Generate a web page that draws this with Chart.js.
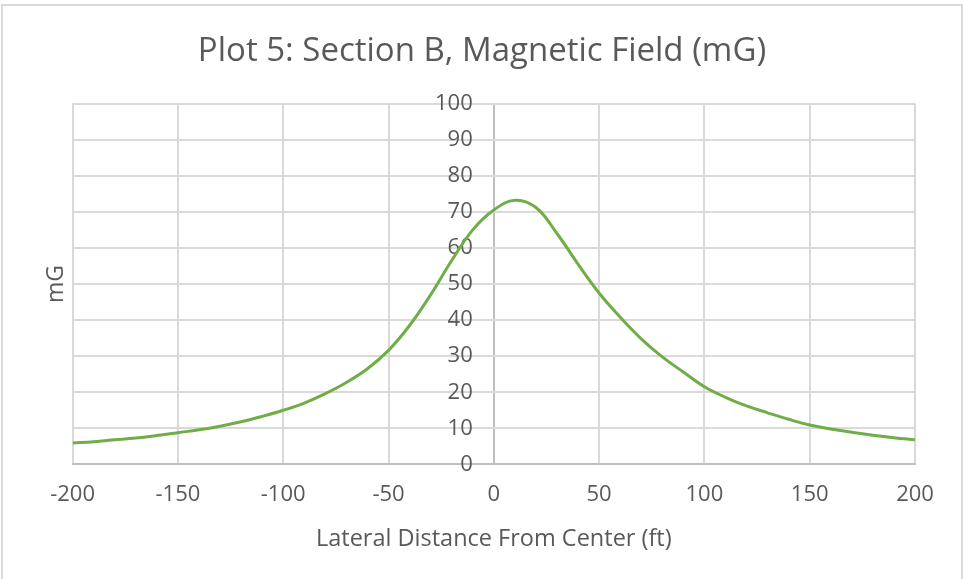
<!DOCTYPE html>
<html lang="en">
<head>
  <meta charset="UTF-8">
  <title>Plot 5: Section B, Magnetic Field (mG)</title>
  <script src="https://cdn.jsdelivr.net/npm/chart.js"></script>
  <style>
    html, body { margin: 0; padding: 0; background: #fff; }
    .wrap { position: relative; width: 964px; height: 579px; }
    .frame {
      position: absolute; left: 1px; top: 4px; width: 958px; height: 580px;
      border: 2px solid #d9d9d9; pointer-events: none;
    }
  </style>
</head>
<body>
  <div class="wrap">
    <canvas id="fieldChart" width="964" height="579"></canvas>
    <div class="frame"></div>
  </div>

  <script>
    // lateral distance (ft) and field (mG)
    const distances = [-200, -190, -180, -170, -160, -150, -140, -130, -120, -110,
      -100, -90, -80, -70, -60, -50, -40, -30, -20, -10,
      0, 10, 20, 30, 40, 50, 60, 70, 80, 90,
      100, 110, 120, 130, 140, 150, 160, 170, 180, 190, 200];
    const fieldValues = [5.9, 6.3, 6.8, 7.3, 8.0, 8.8, 9.6, 10.6, 11.8, 13.3,
      15.0, 17.0, 19.6, 22.7, 26.5, 31.6, 38.5, 47.0, 56.5, 65.0,
      70.5, 73.2, 71.2, 64.0, 55.5, 47.5, 40.8, 34.8, 29.8, 25.6,
      21.5, 18.6, 16.2, 14.3, 12.5, 10.9, 9.8, 8.9, 8.1, 7.4, 6.8];
    const xTickValues = [-200, -150, -100, -50, 0, 50, 100, 150, 200];
    const yTickValues = [0, 10, 20, 30, 40, 50, 60, 70, 80, 90, 100];

    const textGray = '#595959';
    const gridGray = '#d9d9d9';
    const axisGray = '#bfbfbf';

    const points = distances.map((d, i) => ({ x: d, y: fieldValues[i] }));

    const ctx = document.getElementById('fieldChart').getContext('2d');
    const fieldChart = new Chart(ctx, {
      type: 'scatter',
      data: {
        datasets: [{
          label: 'Magnetic Field',
          data: points,
          showLine: true,
          borderColor: '#70AD47',
          borderWidth: 3,
          pointRadius: 0,
          tension: 0.4,
          yAxisID: 'y'
        }]
      },
      options: {
        responsive: false,
        animation: false,
        layout: {
          padding: { left: 33, right: 33, top: 6, bottom: 26 }
        },
        plugins: {
          legend: { display: false },
          tooltip: { enabled: false },
          title: {
            display: true,
            text: 'Plot 5: Section B, Magnetic Field (mG)',
            color: textGray,
            font: { family: 'Open Sans', size: 33, weight: 'normal' },
            padding: { top: 26, bottom: 32 }
          }
        },
        scales: {
          x: {
            type: 'linear',
            min: -200,
            max: 200,
            afterBuildTicks: (axis) => { axis.ticks = xTickValues.map(v => ({ value: v })); },
            // the vertical line at 0 stands in for the value axis
            grid: {
              color: (c) => (c.tick && c.tick.value === 0 ? axisGray : gridGray),
              lineWidth: 2,
              drawTicks: false
            },
            border: { color: axisGray, width: 2 },
            ticks: {
              color: textGray,
              padding: 17,
              font: { family: 'Open Sans', size: 22 }
            },
            title: {
              display: true,
              text: 'Lateral Distance From Center (ft)',
              color: textGray,
              font: { family: 'Open Sans', size: 23.5 },
              padding: { top: 0, bottom: 0 }
            }
          },
          y: {
            type: 'linear',
            // labels sit just left of the 0 line
            position: { x: -10 },
            min: 0,
            max: 100,
            afterBuildTicks: (axis) => { axis.ticks = yTickValues.map(v => ({ value: v })); },
            grid: { color: gridGray, lineWidth: 2, drawTicks: false },
            border: { display: false },
            ticks: {
              color: textGray,
              font: { family: 'Open Sans', size: 22 }
            }
          },
          yTitle: {
            type: 'linear',
            position: 'left',
            grid: { display: false, drawTicks: false },
            border: { display: false },
            ticks: { display: false },
            title: {
              display: true,
              text: 'mG',
              color: textGray,
              font: { family: 'Open Sans', size: 23 },
              padding: { top: 10, bottom: 2 }
            }
          },
          // empty strip on the right so the title stays centred on the page
          yRight: {
            type: 'linear',
            position: 'right',
            grid: { display: false, drawTicks: false },
            border: { display: false },
            ticks: { display: false },
            afterFit: (axis) => { axis.width = 16; }
          }
        }
      }
    });
  </script>
</body>
</html>
